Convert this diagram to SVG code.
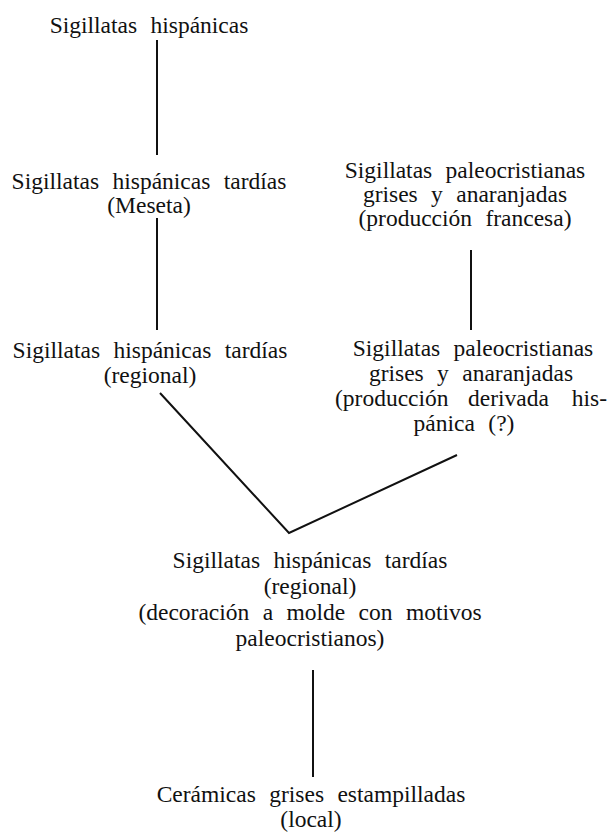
<svg xmlns="http://www.w3.org/2000/svg" width="608" height="837" viewBox="0 0 608 837" font-family="Liberation Serif, DejaVu Serif, serif">
<style>
text{font-size:23.5px;fill:#111;text-anchor:middle;word-spacing:7.5px}
.edge{stroke:#111;stroke-width:2;fill:none}
</style>
<rect width="608" height="837" fill="#fff"/>
<g id="connectors">
<line class="edge" x1="157" y1="40" x2="157" y2="155"/>
<line class="edge" x1="157" y1="218" x2="157" y2="330"/>
<line class="edge" x1="471" y1="250" x2="471" y2="330"/>
<polyline class="edge" points="160,393 289,533 457,455"/>
<line class="edge" x1="313" y1="670" x2="313" y2="777"/>
</g>
<g id="n1"><text x="149" y="33">Sigillatas hispánicas</text></g>
<g id="n2"><text x="149" y="189">Sigillatas hispánicas tardías</text><text x="149" y="213">(Meseta)</text></g>
<g id="n3"><text x="465" y="178">Sigillatas paleocristianas</text><text x="465" y="202">grises y anaranjadas</text><text x="465" y="226">(producción francesa)</text></g>
<g id="n4"><text x="150" y="358">Sigillatas hispánicas tardías</text><text x="150" y="383">(regional)</text></g>
<g id="n5"><text x="473" y="356">Sigillatas paleocristianas</text><text x="471" y="381">grises y anaranjadas</text><text style="text-anchor:start" x="335" y="406">(producción</text><text style="text-anchor:start" x="468" y="406">derivada</text><text style="text-anchor:end" x="607" y="406">his-</text><text x="464" y="431">pánica (?)</text></g>
<g id="n6"><text x="310" y="568">Sigillatas hispánicas tardías</text><text x="310" y="594">(regional)</text><text x="310" y="620">(decoración a molde con motivos</text><text x="310" y="646">paleocristianos)</text></g>
<g id="n7"><text x="311" y="802">Cerámicas grises estampilladas</text><text x="311" y="827">(local)</text></g>
</svg>
